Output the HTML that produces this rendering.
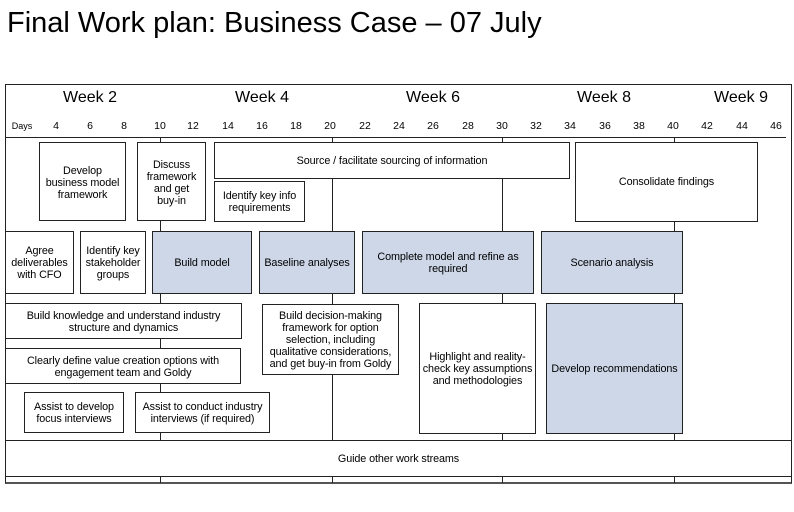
<!DOCTYPE html>
<html><head><meta charset="utf-8"><style>
*{margin:0;padding:0;box-sizing:border-box}
body{width:794px;height:512px;background:#fff;position:relative;overflow:hidden;font-family:"Liberation Sans",Arial,sans-serif;color:#000}
.a{position:absolute}
.b{position:absolute;border:1.3px solid #222;background:#fff;display:flex;align-items:center;justify-content:center;text-align:center;font-size:10.8px;line-height:12px;padding:0 1px;letter-spacing:-0.1px}
.blue{background:#cdd7e8}
.v{position:absolute;width:1.3px;background:#222}
.wk{position:absolute;top:89px;font-size:16px;transform:translateX(-50%);white-space:nowrap}
.d{position:absolute;top:120px;font-size:10.5px;transform:translateX(-50%)}
</style></head><body>
<div class="a" style="left:7px;top:7px;font-size:29px;white-space:nowrap;letter-spacing:0">Final Work plan: Business Case – 07 July</div>
<div class="a" style="left:5px;top:84px;width:787px;height:400px;border:1.3px solid #222;border-bottom:2.5px solid #555"></div>
<div class="a" style="left:5px;top:137px;width:781px;height:1.3px;background:#222"></div>
<div class="v" style="left:160px;top:138px;height:345px"></div>
<div class="v" style="left:332px;top:138px;height:345px"></div>
<div class="v" style="left:502px;top:138px;height:345px"></div>
<div class="v" style="left:674px;top:138px;height:345px"></div>
<div class="wk" style="left:90px">Week 2</div>
<div class="wk" style="left:262px">Week 4</div>
<div class="wk" style="left:433px">Week 6</div>
<div class="wk" style="left:604px">Week 8</div>
<div class="wk" style="left:741px">Week 9</div>
<div class="d" style="left:22px;font-size:9px;top:121px">Days</div>
<div class="d" style="left:56px">4</div><div class="d" style="left:90px">6</div><div class="d" style="left:124px">8</div>
<div class="d" style="left:160px">10</div><div class="d" style="left:193px">12</div><div class="d" style="left:228px">14</div>
<div class="d" style="left:262px">16</div><div class="d" style="left:296px">18</div><div class="d" style="left:330px">20</div>
<div class="d" style="left:365px">22</div><div class="d" style="left:399px">24</div><div class="d" style="left:433px">26</div>
<div class="d" style="left:468px">28</div><div class="d" style="left:502px">30</div><div class="d" style="left:536px">32</div>
<div class="d" style="left:570px">34</div><div class="d" style="left:605px">36</div><div class="d" style="left:639px">38</div>
<div class="d" style="left:673px">40</div><div class="d" style="left:707px">42</div><div class="d" style="left:742px">44</div>
<div class="d" style="left:776px">46</div>

<div class="b" style="left:39px;top:142px;width:87px;height:79px;align-items:flex-start;padding-top:22px">Develop<br>business model<br>framework</div>
<div class="b" style="left:137px;top:142px;width:69px;height:79px;align-items:flex-start;padding-top:16px">Discuss framework and get<br>buy-in</div>
<div class="b" style="left:214px;top:142px;width:356px;height:37px">Source / facilitate sourcing of information</div>
<div class="b" style="left:214px;top:181px;width:91px;height:41px">Identify key info requirements</div>
<div class="b" style="left:575px;top:142px;width:183px;height:80px">Consolidate findings</div>

<div class="b" style="left:5px;top:231px;width:69px;height:63px">Agree deliverables with CFO</div>
<div class="b" style="left:80px;top:231px;width:66px;height:63px">Identify key stakeholder groups</div>
<div class="b blue" style="left:152px;top:231px;width:100px;height:63px">Build model</div>
<div class="b blue" style="left:259px;top:231px;width:96px;height:63px">Baseline analyses</div>
<div class="b blue" style="left:362px;top:231px;width:172px;height:63px">Complete model and refine as<br>required</div>
<div class="b blue" style="left:541px;top:231px;width:142px;height:63px">Scenario analysis</div>

<div class="b" style="left:5px;top:303px;width:237px;height:36px;align-items:flex-start;padding-top:6px">Build knowledge and understand industry<br>structure and dynamics</div>
<div class="b" style="left:5px;top:348px;width:236px;height:36px;align-items:flex-start;padding-top:6px">Clearly define value creation options with<br>engagement team and Goldy</div>
<div class="b" style="left:24px;top:392px;width:100px;height:41px">Assist to develop<br>focus interviews</div>
<div class="b" style="left:135px;top:392px;width:135px;height:41px">Assist to conduct industry<br>interviews (if required)</div>
<div class="b" style="left:262px;top:304px;width:137px;height:71px;align-items:flex-start;padding-top:5px">Build decision-making<br>framework for option<br>selection, including<br>qualitative considerations,<br>and get buy-in from Goldy</div>
<div class="b" style="left:419px;top:303px;width:117px;height:131px">Highlight and reality-<br>check key assumptions<br>and methodologies</div>
<div class="b blue" style="left:546px;top:303px;width:137px;height:131px">Develop recommendations</div>
<div class="b" style="left:5px;top:440px;width:787px;height:37px">Guide other work streams</div>
</body></html>
